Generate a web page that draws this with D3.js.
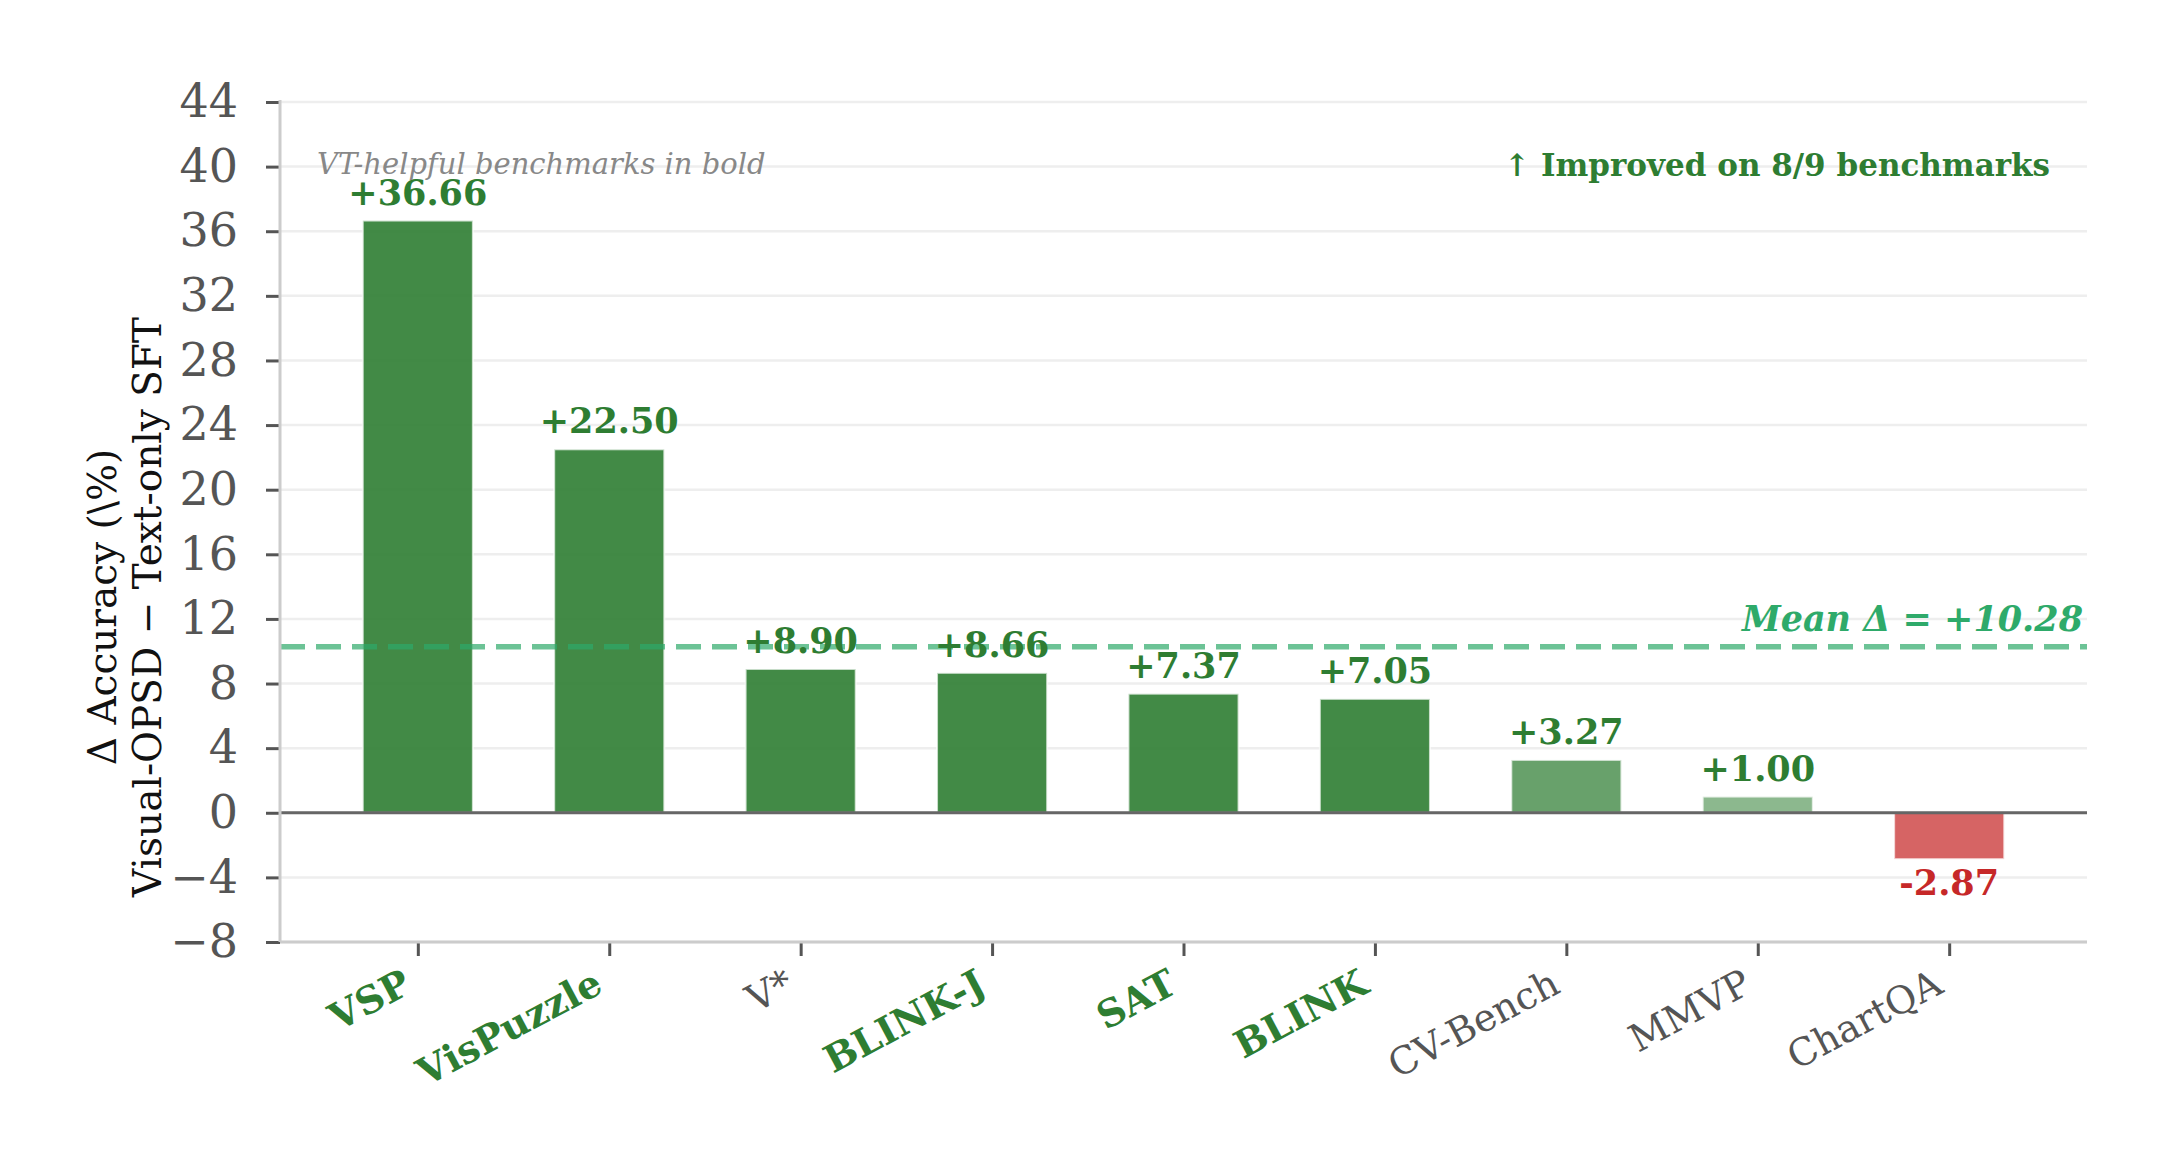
<!DOCTYPE html>
<html><head><meta charset="utf-8">
<script src="https://cdn.jsdelivr.net/npm/d3@7"></script>
<style>body{margin:0;background:#fff}svg{display:block}text{font-family:"DejaVu Serif",serif}</style>
</head><body>
<script>
const categories = ["VSP","VisPuzzle","V*","BLINK-J","SAT","BLINK","CV-Bench","MMVP","ChartQA"];
const deltas = [36.66,22.50,8.90,8.66,7.37,7.05,3.27,1.00,-2.87];
const vtHelpful = [true,true,false,true,true,true,false,false,false];
const barOpacity = [0.9,0.9,0.9,0.9,0.9,0.9,0.72,0.55,0.72];
const yTicks = [-8,-4,0,4,8,12,16,20,24,28,32,36,40,44];
const meanDelta = 10.28;

const W=2170,H=1172;
const L=280,R=2087,T=102,B=942;
const svg=d3.select("body").append("svg").attr("width",W).attr("height",H);

const x=d3.scaleLinear().domain([-0.72,8.72]).range([L,R]);
const y=d3.scaleLinear().domain([-8,44]).range([B,T]);
const bw=x(0.575)-x(0);

// grid
svg.append("g").selectAll("line").data(yTicks).join("line")
 .attr("x1",L).attr("x2",R).attr("y1",d=>y(d)).attr("y2",d=>y(d))
 .attr("stroke","#eeeeee").attr("stroke-width",2.5);

// bars
svg.append("g").selectAll("rect").data(deltas).join("rect")
 .attr("x",(d,i)=>x(i)-bw/2).attr("width",bw)
 .attr("y",d=>y(Math.max(0,d))).attr("height",d=>Math.abs(y(d)-y(0)))
 .attr("fill",d=>d>=0?"#2e7d32":"#c62828")
 .attr("fill-opacity",(d,i)=>barOpacity[i])
 .attr("stroke","#ffffff").attr("stroke-opacity",0.7).attr("stroke-width",2);

// zero line
svg.append("line").attr("x1",L).attr("x2",R).attr("y1",y(0)).attr("y2",y(0))
 .attr("stroke","#666").attr("stroke-width",2.8);

// mean line
svg.append("line").attr("x1",L).attr("x2",R).attr("y1",y(meanDelta)).attr("y2",y(meanDelta))
 .attr("stroke","#2eaa6a").attr("stroke-opacity",0.7).attr("stroke-width",5.5)
 .attr("stroke-dasharray","25,11");
svg.append("text").attr("x",2083).attr("y",y(meanDelta)-16).attr("text-anchor","end")
 .attr("font-size",35).attr("font-weight","bold").attr("font-style","italic")
 .attr("fill","#2eaa6a").text("Mean Δ = +"+meanDelta.toFixed(2));

// value labels
svg.append("g").selectAll("text").data(deltas).join("text")
 .attr("x",(d,i)=>x(i)).attr("y",d=>d>=0?y(d)-16:y(d)+36)
 .attr("text-anchor","middle").attr("font-size",35).attr("font-weight","bold")
 .attr("fill",d=>d>=0?"#2e7d32":"#c62828")
 .text(d=>(d>=0?"+":"")+d.toFixed(2));

// axes
const yAxis=svg.append("g").attr("transform",`translate(${L},0)`)
 .call(d3.axisLeft(y).tickValues(yTicks).tickSize(14).tickPadding(28).tickFormat(d=>d<0?"−"+Math.abs(d):d));
yAxis.select(".domain").remove();
yAxis.selectAll(".tick line").attr("stroke","#555").attr("stroke-width",3);
yAxis.selectAll(".tick text").attr("font-size",46).attr("fill","#555").attr("font-family","DejaVu Serif");

const xAxis=svg.append("g").attr("transform",`translate(0,${B})`)
 .call(d3.axisBottom(x).tickValues(d3.range(categories.length)).tickSize(14).tickFormat(""));
xAxis.select(".domain").remove();
xAxis.selectAll(".tick line").attr("stroke","#555").attr("stroke-width",3);

// spines
svg.append("line").attr("x1",L).attr("x2",L).attr("y1",T-2).attr("y2",B).attr("stroke","#cccccc").attr("stroke-width",3);
svg.append("line").attr("x1",L).attr("x2",R).attr("y1",B).attr("y2",B).attr("stroke","#cccccc").attr("stroke-width",3);

// x labels rotated
const th=28, rad=th*Math.PI/180, fs=38, labTop=B+24;
svg.append("g").selectAll("text").data(categories).join("text")
 .attr("transform",(d,i)=>`translate(${x(i)-0.24*fs*Math.sin(rad)},${labTop+0.76*fs*Math.cos(rad)}) rotate(${-th})`)
 .attr("text-anchor","end").attr("font-size",fs)
 .attr("font-weight",(d,i)=>vtHelpful[i]?"bold":"normal")
 .attr("fill",(d,i)=>vtHelpful[i]?"#2e7d32":"#555555")
 .text(d=>d);

// y label
const yl=svg.append("text").attr("transform","translate(116,607) rotate(-90)")
 .attr("text-anchor","middle").attr("font-size",39).attr("fill","#111");
yl.append("tspan").attr("x",0).attr("dy",0).text("Δ Accuracy (\\%)");
yl.append("tspan").attr("x",0).attr("dy",45).text("Visual-OPSD − Text-only SFT");

// annotations
svg.append("text").attr("x",317).attr("y",174).attr("font-size",29).attr("font-style","italic")
 .attr("fill","#888").text("VT-helpful benchmarks in bold");
svg.append("text").attr("x",2050).attr("y",176).attr("text-anchor","end").attr("font-size",31)
 .attr("font-weight","bold").attr("fill","#2e7d32").text("↑ Improved on 8/9 benchmarks");
</script>
</body></html>
